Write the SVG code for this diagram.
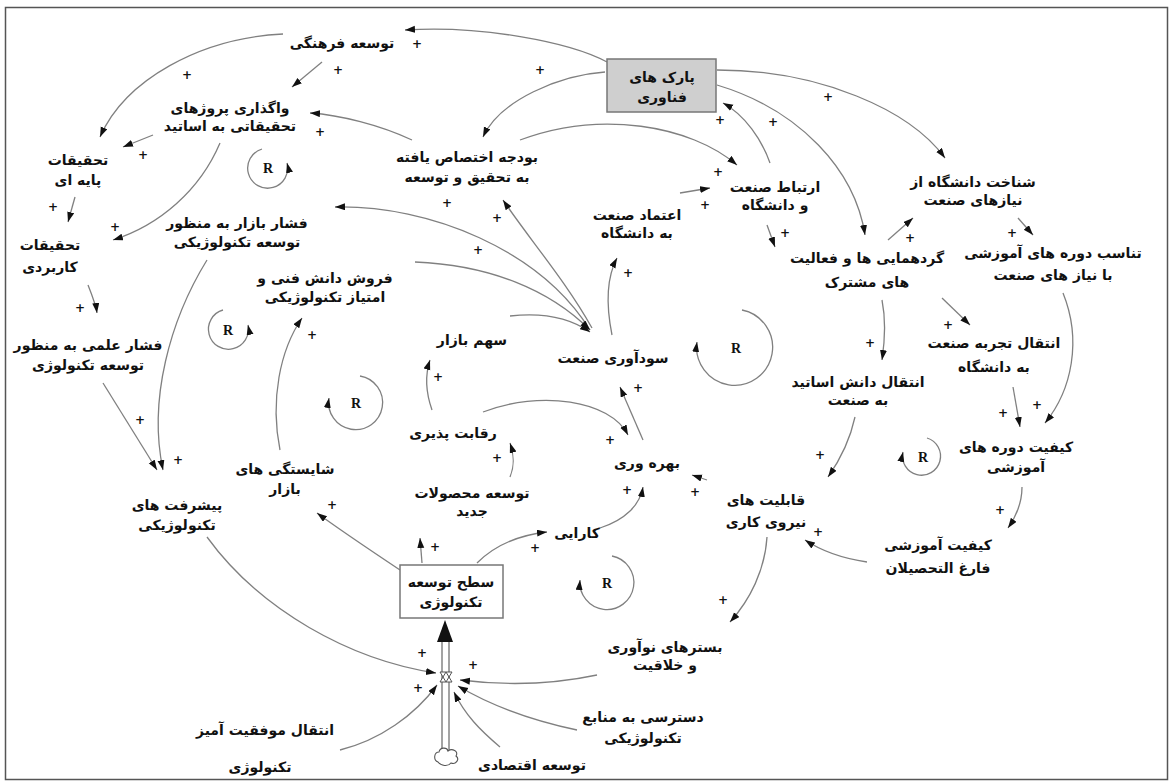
<svg xmlns="http://www.w3.org/2000/svg" width="1173" height="783" viewBox="0 0 1173 783">
<defs>
<marker id="ah" markerUnits="userSpaceOnUse" markerWidth="12" markerHeight="8" refX="10" refY="3.5" orient="auto">
<path d="M0,0 L10,3.5 L0,7 z" fill="#111"/>
</marker>
<style>
.n text{font-family:"DejaVu Sans",sans-serif;font-size:14px;font-weight:bold;fill:#111;text-anchor:middle}
.e{fill:none;stroke:#808080;stroke-width:1.3;marker-end:url(#ah)}
.lp{fill:none;stroke:#808080;stroke-width:1.3;marker-end:url(#ah)}
.p{font-family:"DejaVu Sans",sans-serif;font-size:12px;font-weight:bold;fill:#111;text-anchor:middle}
.r{font-family:"Liberation Serif",serif;font-size:14px;font-weight:bold;fill:#111;text-anchor:middle}
</style>
</defs>
<rect x="0" y="0" width="1173" height="783" fill="#fff"/>
<rect x="5.5" y="7.5" width="1162" height="772" fill="none" stroke="#555" stroke-width="1.5"/>

<g id="connectors">
<path class="e" d="M607,62 C570,42 480,25 405,30"/>
<path class="e" d="M605,72 C560,75 500,100 483,137"/>
<path class="e" d="M283,34 C200,38 125,80 100,137"/>
<path class="e" d="M322,62 L292,87"/>
<path class="e" d="M412,140 C380,125 340,115 310,113"/>
<path class="e" d="M153,135 L123,147"/>
<path class="e" d="M220,143 C200,190 160,225 113,240"/>
<path class="e" d="M75,197 L68,222"/>
<path class="e" d="M88,285 C92,295 96,305 97,313"/>
<path class="e" d="M103,383 L157,470"/>
<path class="e" d="M207,260 C170,320 148,400 163,470"/>
<path class="e" d="M590,330 C540,250 430,205 335,207"/>
<path class="e" d="M592,328 C565,280 530,240 503,200"/>
<path class="e" d="M415,262 C490,265 550,290 590,330"/>
<path class="e" d="M510,316 C545,312 570,318 590,332"/>
<path class="e" d="M612,335 C605,300 608,275 617,258"/>
<path class="e" d="M680,193 L710,188"/>
<path class="e" d="M520,140 C600,110 690,125 737,165"/>
<path class="e" d="M770,163 C762,140 745,115 723,103"/>
<path class="e" d="M717,70 C820,70 910,110 945,158"/>
<path class="e" d="M717,85 C800,110 855,170 865,235"/>
<path class="e" d="M767,225 L775,247"/>
<path class="e" d="M888,240 L913,218"/>
<path class="e" d="M1018,218 L1033,235"/>
<path class="e" d="M882,300 C886,320 885,340 882,360"/>
<path class="e" d="M942,298 L970,325"/>
<path class="e" d="M1063,293 C1082,340 1072,390 1045,423"/>
<path class="e" d="M1013,387 L1020,427"/>
<path class="e" d="M855,417 C850,440 840,460 828,477"/>
<path class="e" d="M1022,487 C1022,505 1015,518 1008,528"/>
<path class="e" d="M867,562 C840,558 820,550 805,540"/>
<path class="e" d="M707,480 L692,475"/>
<path class="e" d="M483,412 C540,390 610,400 628,435"/>
<path class="e" d="M643,440 L620,387"/>
<path class="e" d="M432,410 C425,390 425,375 430,360"/>
<path class="e" d="M510,477 C515,465 514,455 510,443"/>
<path class="e" d="M280,450 C270,400 280,350 302,318"/>
<path class="e" d="M400,570 C370,550 340,530 317,513"/>
<path class="e" d="M422,563 L420,538"/>
<path class="e" d="M477,563 C495,545 520,535 547,532"/>
<path class="e" d="M600,528 C625,520 640,505 643,487"/>
<path class="e" d="M767,537 C765,570 750,600 730,622"/>
<path class="e" d="M597,675 C550,685 500,685 460,680"/>
<path class="e" d="M577,730 C530,720 490,705 458,686"/>
<path class="e" d="M500,747 C480,730 465,715 454,692"/>
<path class="e" d="M207,537 C260,610 350,660 436,673"/>
<path class="e" d="M340,750 C380,740 415,715 437,685"/>
<path class="lp" d="M262,149 A20,20 0 1 0 287,163"/>
<path class="lp" d="M223,310 A20,20 0 1 0 248,325"/>
<path class="lp" d="M360,376 A27,27 0 1 1 329,398"/>
<path class="lp" d="M742,310 A38,38 0 1 1 697,342"/>
<path class="lp" d="M927,438 A19,19 0 1 1 903,452"/>
<path class="lp" d="M612,556 A27,27 0 1 1 580,580"/>
</g>

<g id="loop-labels">
<text class="r" x="268" y="173">R</text>
<text class="r" x="228" y="335">R</text>
<text class="r" x="356" y="408">R</text>
<text class="r" x="736" y="353">R</text>
<text class="r" x="923" y="462">R</text>
<text class="r" x="607" y="588">R</text>
</g>

<g id="polarities">
<text class="p" x="417" y="48">+</text>
<text class="p" x="540" y="74">+</text>
<text class="p" x="187" y="79">+</text>
<text class="p" x="338" y="74">+</text>
<text class="p" x="320" y="136">+</text>
<text class="p" x="143" y="159">+</text>
<text class="p" x="115" y="231">+</text>
<text class="p" x="53" y="211">+</text>
<text class="p" x="80" y="312">+</text>
<text class="p" x="140" y="424">+</text>
<text class="p" x="178" y="464">+</text>
<text class="p" x="447" y="207">+</text>
<text class="p" x="497" y="222">+</text>
<text class="p" x="478" y="254">+</text>
<text class="p" x="628" y="277">+</text>
<text class="p" x="705" y="209">+</text>
<text class="p" x="718" y="176">+</text>
<text class="p" x="720" y="124">+</text>
<text class="p" x="828" y="101">+</text>
<text class="p" x="773" y="126">+</text>
<text class="p" x="785" y="237">+</text>
<text class="p" x="910" y="242">+</text>
<text class="p" x="1012" y="237">+</text>
<text class="p" x="870" y="347">+</text>
<text class="p" x="948" y="329">+</text>
<text class="p" x="1037" y="409">+</text>
<text class="p" x="1003" y="417">+</text>
<text class="p" x="820" y="459">+</text>
<text class="p" x="1000" y="514">+</text>
<text class="p" x="818" y="536">+</text>
<text class="p" x="695" y="496">+</text>
<text class="p" x="610" y="444">+</text>
<text class="p" x="638" y="392">+</text>
<text class="p" x="438" y="381">+</text>
<text class="p" x="497" y="462">+</text>
<text class="p" x="312" y="339">+</text>
<text class="p" x="332" y="509">+</text>
<text class="p" x="435" y="551">+</text>
<text class="p" x="535" y="552">+</text>
<text class="p" x="627" y="494">+</text>
<text class="p" x="723" y="604">+</text>
<text class="p" x="473" y="669">+</text>
<text class="p" x="422" y="657">+</text>
<text class="p" x="418" y="692">+</text>
</g>

<g id="flow">
<line x1="442" y1="642" x2="442" y2="750" stroke="#666" stroke-width="1.2"/>
<line x1="449" y1="642" x2="449" y2="750" stroke="#666" stroke-width="1.2"/>
<polygon points="437,642 453,642 445,620" fill="#111"/>
<path d="M446,672 L452,682 L440,682 z M446,682 L452,672 L440,672 z" fill="#fff" stroke="#555" stroke-width="1"/>
<path d="M438,762 C433,760 434,752 439,752 C440,747 447,747 448,751 C452,748 459,751 456,756 C460,759 456,765 451,763 C448,767 441,766 438,762 z" fill="#fff" stroke="#555" stroke-width="1.1"/>
</g>

<g id="n-farhangi" class="n"><text x="342" y="48">توسعه فرهنگی</text></g>
<g id="n-park" class="n">
<rect x="607" y="59" width="109" height="53" fill="#cfcfcf" stroke="#777" stroke-width="1.5"/>
<text x="662" y="82">پارک های</text><text x="662" y="102">فناوری</text></g>
<g id="n-vagozari" class="n"><text x="230" y="113">واگذاری پروژهای</text><text x="230" y="131">تحقیقاتی به اساتید</text></g>
<g id="n-payeh" class="n"><text x="78" y="165">تحقیقات</text><text x="78" y="185">پایه ای</text></g>
<g id="n-karbordi" class="n"><text x="50" y="250">تحقیقات</text><text x="50" y="272">کاربردی</text></g>
<g id="n-feshar-bazar" class="n"><text x="237" y="228">فشار بازار به منظور</text><text x="237" y="247">توسعه تکنولوژیکی</text></g>
<g id="n-budjeh" class="n"><text x="467" y="162">بودجه اختصاص یافته</text><text x="467" y="182">به تحقیق و توسعه</text></g>
<g id="n-ertebat" class="n"><text x="775" y="192">ارتباط صنعت</text><text x="775" y="210">و دانشگاه</text></g>
<g id="n-etemad" class="n"><text x="637" y="220">اعتماد صنعت</text><text x="637" y="238">به دانشگاه</text></g>
<g id="n-shenakht" class="n"><text x="973" y="187">شناخت دانشگاه از</text><text x="973" y="205">نیازهای صنعت</text></g>
<g id="n-gerdhamaei" class="n"><text x="867" y="263">گردهمایی ها و فعالیت</text><text x="867" y="287">های مشترک</text></g>
<g id="n-tanasob" class="n"><text x="1053" y="258">تناسب دوره های آموزشی</text><text x="1053" y="280">با نیاز های صنعت</text></g>
<g id="n-forosh" class="n"><text x="325" y="283">فروش دانش فنی و</text><text x="325" y="302">امتیاز تکنولوژیکی</text></g>
<g id="n-sahm" class="n"><text x="472" y="345">سهم بازار</text></g>
<g id="n-sodavari" class="n"><text x="613" y="363">سودآوری صنعت</text></g>
<g id="n-tajrobeh" class="n"><text x="994" y="348">انتقال تجربه صنعت</text><text x="994" y="372">به دانشگاه</text></g>
<g id="n-danesh" class="n"><text x="858" y="387">انتقال دانش اساتید</text><text x="858" y="405">به صنعت</text></g>
<g id="n-feshar-elmi" class="n"><text x="88" y="350">فشار علمی به منظور</text><text x="88" y="370">توسعه تکنولوژی</text></g>
<g id="n-reghabat" class="n"><text x="453" y="438">رقابت پذیری</text></g>
<g id="n-bahrevari" class="n"><text x="647" y="468">بهره وری</text></g>
<g id="n-keyfiat-dore" class="n"><text x="1016" y="452">کیفیت دوره های</text><text x="1016" y="472">آموزشی</text></g>
<g id="n-shayestegi" class="n"><text x="285" y="474">شایستگی های</text><text x="285" y="494">بازار</text></g>
<g id="n-pishraft" class="n"><text x="177" y="510">پیشرفت های</text><text x="177" y="530">تکنولوژیکی</text></g>
<g id="n-mahsulat" class="n"><text x="472" y="498">توسعه محصولات</text><text x="472" y="516">جدید</text></g>
<g id="n-ghabeliat" class="n"><text x="766" y="505">قابلیت های</text><text x="766" y="527">نیروی کاری</text></g>
<g id="n-karaei" class="n"><text x="577" y="538">کارایی</text></g>
<g id="n-keyfiat-farogh" class="n"><text x="938" y="550">کیفیت آموزشی</text><text x="938" y="573">فارغ التحصیلان</text></g>
<g id="n-sath" class="n">
<rect x="400" y="565" width="103" height="53" fill="#fff" stroke="#777" stroke-width="1.5"/>
<text x="451" y="587">سطح توسعه</text><text x="451" y="607">تکنولوژی</text></g>
<g id="n-bastar" class="n"><text x="665" y="652">بسترهای نوآوری</text><text x="665" y="670">و خلاقیت</text></g>
<g id="n-dastrasi" class="n"><text x="643" y="722">دسترسی به منابع</text><text x="643" y="743">تکنولوژیکی</text></g>
<g id="n-enteghal-movafagh" class="n"><text x="265" y="735">انتقال موفقیت آمیز</text><text x="260" y="772">تکنولوژی</text></g>
<g id="n-eghtesadi" class="n"><text x="532" y="770">توسعه اقتصادی</text></g>
</svg>
